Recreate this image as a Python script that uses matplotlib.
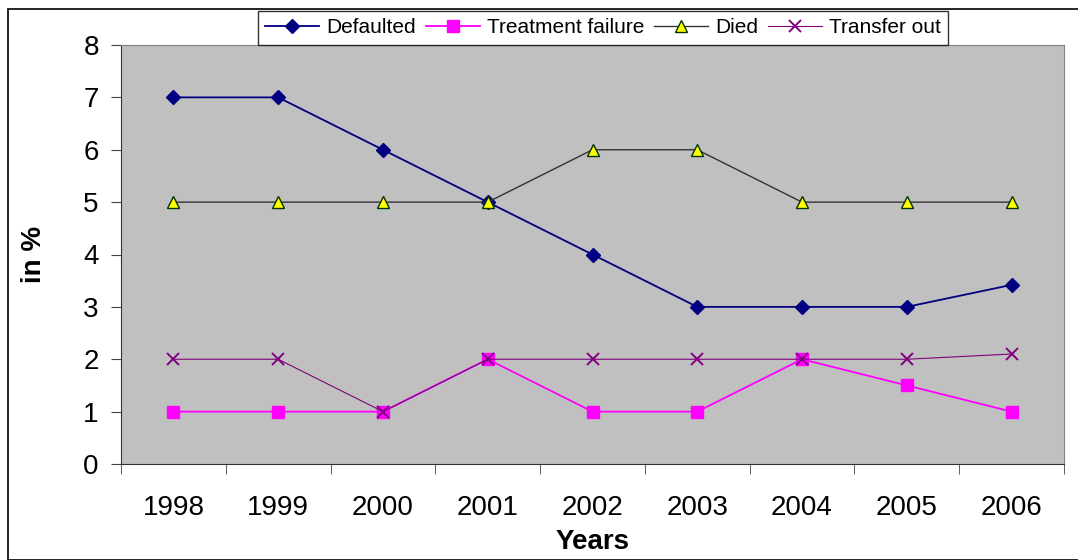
import matplotlib
matplotlib.use("Agg")
import matplotlib.pyplot as plt
from matplotlib.patches import Rectangle

years = ["1998", "1999", "2000", "2001", "2002", "2003", "2004", "2005", "2006"]
defaulted = [7, 7, 6, 5, 4, 3, 3, 3, 3.42]
treatment_failure = [1, 1, 1, 2, 1, 1, 2, 1.5, 1]
died = [5, 5, 5, 5, 6, 6, 5, 5, 5]
transfer_out = [2, 2, 1, 2, 2, 2, 2, 2, 2.1]

plt.rcParams['font.family'] = ['Liberation Sans', 'DejaVu Sans']

fig = plt.figure(figsize=(10.78, 5.6), dpi=100)
fig.patches.append(Rectangle((8/1078, 0), 1.0, 1 - 9/560, transform=fig.transFigure,
                             fill=False, edgecolor='black', linewidth=1.2))
ax = fig.add_axes([121/1078, 1 - 464/560, (1064-121)/1078, (464-45)/560])
ax.set_facecolor('#c0c0c0')

x = list(range(len(years)))
l1, = ax.plot(x, defaulted, color='#000080', marker='D', markersize=7.5, linewidth=1.3, label='Defaulted')
l2, = ax.plot(x, treatment_failure, color='#ff00ff', marker='s', markersize=8, linewidth=1.3, label='Treatment failure')
l3, = ax.plot(x, died, color='#333333', marker='^', markersize=9, markerfacecolor='#ffff00',
              markeredgecolor='#003300', linewidth=1.0, label='Died')
l4, = ax.plot(x, transfer_out, color='#800080', marker='x', markersize=9, markeredgewidth=1.4,
              linewidth=0.8, label='Transfer out')

ax.set_xlim(-0.5, len(years) - 0.5)
ax.set_ylim(0, 8)
ax.set_yticks(range(0, 9))
ax.set_xticks(x)
ax.set_xticklabels(years)
ax.set_xticks([i + 0.5 for i in range(-1, len(years))], minor=True)
ax.tick_params(axis='x', which='major', length=0, labelsize=20, pad=22)
ax.tick_params(axis='x', which='minor', length=7, direction='out', color='#444444')
ax.tick_params(axis='y', labelsize=20, length=7, direction='out', color='#444444', pad=9)
for s in ['top', 'right']:
    ax.spines[s].set_color('#808080')
for s in ['left', 'bottom']:
    ax.spines[s].set_color('#333333')

ax.set_xlabel('Years', fontsize=20, fontweight='bold')
ax.xaxis.label.set_va('center')
ax.xaxis.set_label_coords(0.5, (464 - 542) / 419)
ax.set_ylabel('in %', fontsize=20, fontweight='bold')
ax.yaxis.label.set_va('center')
ax.yaxis.set_label_coords((34 - 121) / 943, 0.5)

leg = fig.legend(handles=[l1, l2, l3, l4], loc='upper left', ncol=4,
                 bbox_to_anchor=(258/1078, 1 - 11/560),
                 fontsize=15, frameon=True, fancybox=False,
                 handlelength=2.6, handletextpad=0.35, columnspacing=0.45,
                 borderpad=0.35, borderaxespad=0)
leg.get_frame().set_edgecolor('black')
leg.get_frame().set_linewidth(1.0)

fig.savefig('out.png', dpi=100)
